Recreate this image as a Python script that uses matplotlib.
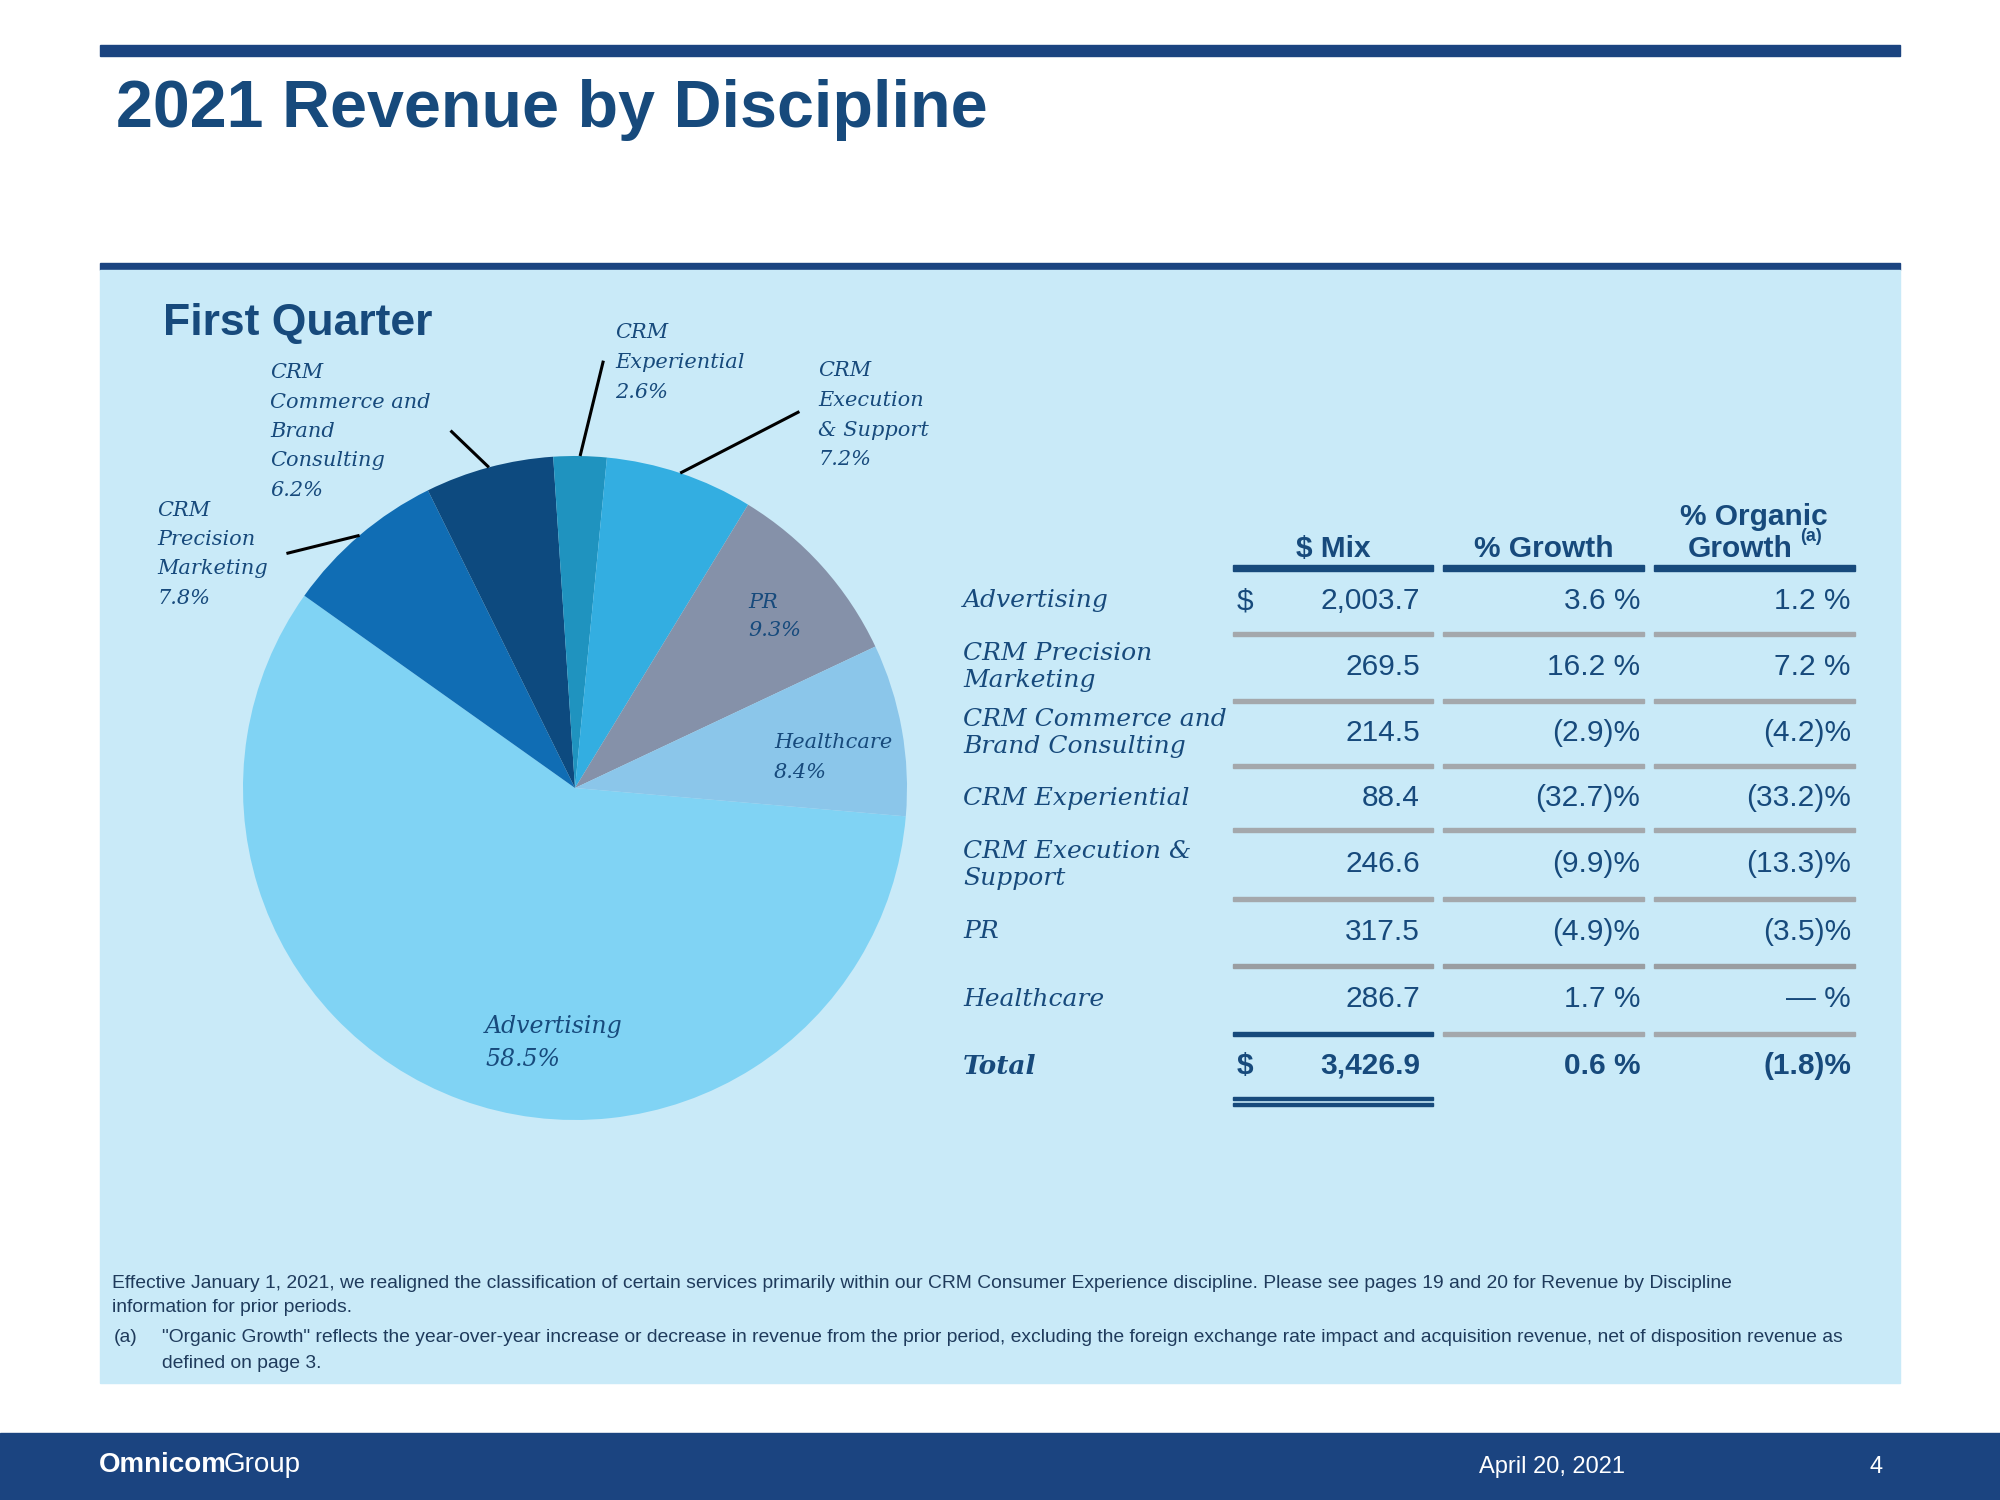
import matplotlib
matplotlib.use("Agg")
import matplotlib.pyplot as plt
from matplotlib.patches import Rectangle
import numpy as np

# data
disciplines = ['Advertising', 'CRM Precision Marketing', 'CRM Commerce and Brand Consulting',
               'CRM Experiential', 'CRM Execution & Support', 'PR', 'Healthcare']
mix = [2003.7, 269.5, 214.5, 88.4, 246.6, 317.5, 286.7]
share_labels = ['58.5%', '7.8%', '6.2%', '2.6%', '7.2%', '9.3%', '8.4%']
growth = ['3.6 %', '16.2 %', '(2.9)%', '(32.7)%', '(9.9)%', '(4.9)%', '1.7 %']
organic = ['1.2 %', '7.2 %', '(4.2)%', '(33.2)%', '(13.3)%', '(3.5)%', '— %']
total_mix = '3,426.9'
total_growth = '0.6 %'
total_organic = '(1.8)%'

slice_colors = ['#80d3f4', '#106db4', '#0d4a7f', '#1f93bf', '#33aee1', '#8591a9', '#8bc6ea']

NAVY = '#1b4480'
TXT = '#174a7c'
BOX = '#c9eaf8'
GREY = '#a4a8ac'
SANS = 'Liberation Sans'
SERIF = 'DejaVu Serif'

fig = plt.figure(figsize=(20, 15), dpi=100)
bg = fig.add_axes([0, 0, 1, 1])
bg.set_xlim(0, 2000)
bg.set_ylim(1500, 0)
bg.axis('off')

# page frame
bg.add_patch(Rectangle((100, 45), 1800, 11, color=NAVY))
bg.add_patch(Rectangle((100, 263), 1800, 7, color=NAVY))
bg.add_patch(Rectangle((100, 270), 1800, 1113, color=BOX))
bg.add_patch(Rectangle((0, 1433), 2000, 67, color=NAVY))

# pie
cx, cy, r = 575, 788, 332
pax = fig.add_axes([(cx - r) / 2000, 1 - (cy + r) / 1500, 2 * r / 2000, 2 * r / 1500])
wedges, _ = pax.pie(mix, colors=slice_colors, startangle=-4.9, counterclock=False,
                    radius=1.0, wedgeprops=dict(linewidth=0))
pax.set_xlim(-1, 1)
pax.set_ylim(-1, 1)
pax.set_aspect('auto')
pax.axis('off')

# leader lines for the small outside slices: (end radius, end angle)
leaders = {1: (1.12, 140.9), 2: (1.14, 109.2), 3: (1.29, 86.2), 4: (1.32, 59.2)}
for i, (rr, ang) in leaders.items():
    w = wedges[i]
    mid = np.deg2rad((w.theta1 + w.theta2) / 2)
    end = np.deg2rad(ang)
    pax.plot([np.cos(mid), rr * np.cos(end)], [np.sin(mid), rr * np.sin(end)],
             color='black', lw=2.2, clip_on=False, solid_capstyle='butt')

# text layer on top of everything
ax = fig.add_axes([0, 0, 1, 1])
ax.set_xlim(0, 2000)
ax.set_ylim(1500, 0)
ax.axis('off')
ax.patch.set_alpha(0)

ax.text(116, 110, '2021 Revenue by Discipline', fontsize=47.8, fontweight='bold',
        color=TXT, family=SANS, va='center')
ax.text(163, 323, 'First Quarter', fontsize=32, fontweight='bold', color=TXT,
        family=SANS, va='center')


def lines_at(x, y0, pitch, lines, **kw):
    for i, s in enumerate(lines):
        ax.text(x, y0 + i * pitch, s, va='center', **kw)


lab_kw = dict(fontsize=15, style='italic', color=TXT, family=SERIF)
pie_text = {
    0: (485, 1026, 34, ['Advertising']),
    1: (157, 510, 29.5, ['CRM', 'Precision', 'Marketing']),
    2: (270, 373, 29.3, ['CRM', 'Commerce and', 'Brand', 'Consulting']),
    3: (615, 333, 29.5, ['CRM', 'Experiential']),
    4: (818, 371, 29.5, ['CRM', 'Execution', '& Support']),
    5: (748, 602, 29, ['PR']),
    6: (774, 743, 29, ['Healthcare']),
}
for i, (x, y, p, words) in pie_text.items():
    kw = dict(lab_kw, fontsize=17) if i == 0 else lab_kw
    lines_at(x, y, p, words + [share_labels[i]], **kw)

# table
cols = [(1233, 1433), (1443, 1644), (1654, 1855)]
hdr_kw = dict(fontsize=21.5, fontweight='bold', color=TXT, family=SANS)
ax.text(1333, 557, '$ Mix', ha='center', va='baseline', **hdr_kw)
ax.text(1544, 557, '% Growth', ha='center', va='baseline', **hdr_kw)
ax.text(1754, 525, '% Organic', ha='center', va='baseline', **hdr_kw)
ax.text(1740, 557, 'Growth', ha='center', va='baseline', **hdr_kw)
ax.text(1800, 541, '(a)', ha='left', va='baseline', fontsize=13, fontweight='bold',
        color=TXT, family=SANS)
for x0, x1 in cols:
    ax.add_patch(Rectangle((x0, 565), x1 - x0, 6, color=TXT))

row_label_lines = [['Advertising'], ['CRM Precision', 'Marketing'],
                   ['CRM Commerce and', 'Brand Consulting'], ['CRM Experiential'],
                   ['CRM Execution &', 'Support'], ['PR'], ['Healthcare']]
row_y = [601, 667, 733, 798, 864, 932, 999]
rule_y = [634, 701, 766, 830, 899, 966, 1034]
row_kw = dict(fontsize=18, style='italic', color=TXT, family=SERIF)
val_kw = dict(fontsize=21.5, color=TXT, family=SANS, va='center', ha='right')

for k, y in enumerate(row_y):
    ls = row_label_lines[k]
    if len(ls) == 1:
        ax.text(963, y, ls[0], va='center', **row_kw)
    else:
        lines_at(963, y - 13, 27, ls, **row_kw)
    ax.text(1420, y, f'{mix[k]:,.1f}', **val_kw)
    ax.text(1640, y, growth[k], **val_kw)
    ax.text(1851, y, organic[k], **val_kw)
    for c, (x0, x1) in enumerate(cols):
        last = k == len(row_y) - 1
        col = TXT if (last and c == 0) else ('#9a9ea2' if k == 5 else GREY)
        th = 4.5 if k == 5 else 3.5
        ax.add_patch(Rectangle((x0, rule_y[k] - th / 2), x1 - x0, th, color=col))
ax.text(1237, 601, '$', va='center', ha='left', fontsize=21.5, color=TXT, family=SANS)

# total row
ax.text(963, 1067, 'Total', va='center', fontsize=19, style='italic',
        fontweight='bold', color=TXT, family=SERIF)
tot_kw = dict(val_kw, fontweight='bold')
ax.text(1237, 1066, '$', va='center', ha='left', fontsize=21.5, fontweight='bold',
        color=TXT, family=SANS)
ax.text(1420, 1066, total_mix, **tot_kw)
ax.text(1640, 1066, total_growth, **tot_kw)
ax.text(1851, 1066, total_organic, **tot_kw)
ax.add_patch(Rectangle((1233, 1096.5), 200, 3, color=TXT))
ax.add_patch(Rectangle((1233, 1102.5), 200, 3, color=TXT))

# footnotes
fn_kw = dict(fontsize=13.9, color='#1f3b5c', family=SANS, va='center')
ax.text(112, 1283, 'Effective January 1, 2021, we realigned the classification of certain services '
        'primarily within our CRM Consumer Experience discipline. Please see pages 19 and 20 '
        'for Revenue by Discipline', **fn_kw)
ax.text(112, 1307, 'information for prior periods.', **fn_kw)
ax.text(114, 1338, '(a)', **fn_kw)
ax.text(162, 1338, '"Organic Growth" reflects the year-over-year increase or decrease in revenue '
        'from the prior period, excluding the foreign exchange rate impact and acquisition '
        'revenue, net of disposition revenue as', **fn_kw)
ax.text(162, 1363, 'defined on page 3.', **fn_kw)

# footer
omni = ax.text(99, 1465, 'Omnicom', fontsize=20, fontweight='bold', color='white',
               family=SANS, va='center')
renderer = fig.canvas.get_renderer()
bb = omni.get_window_extent(renderer).transformed(ax.transData.inverted())
ax.text(max(bb.x0, bb.x1) - 3, 1465, 'Group', fontsize=20, color='white', family=SANS,
        va='center')
ax.text(1479, 1467, 'April 20, 2021', fontsize=17, color='white', family=SANS, va='center')
ax.text(1876, 1467, '4', fontsize=17, color='white', family=SANS, va='center', ha='center')

fig.savefig('out.png', dpi=100, facecolor='white')
